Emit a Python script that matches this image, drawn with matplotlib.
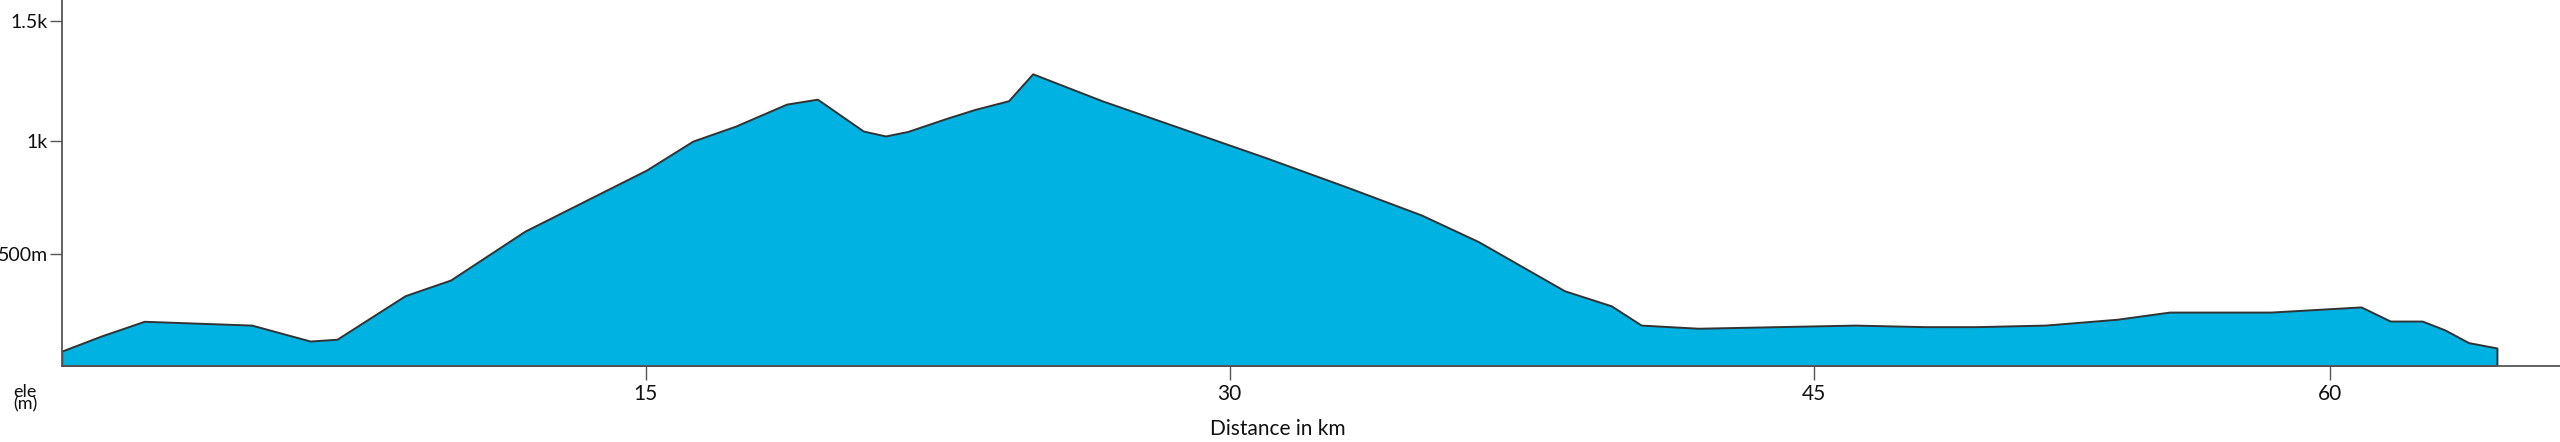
import matplotlib
matplotlib.use("Agg")
import matplotlib.pyplot as plt

# elevation profile
distance_km = [0.0, 1.01, 2.12, 4.88, 6.38, 7.07, 8.82, 9.99, 11.90, 15.02,
               16.21, 17.31, 18.62, 19.41, 20.59, 21.16, 21.73, 22.72, 23.45,
               24.32, 24.94, 26.72, 30.90, 33.03, 34.92, 36.39, 38.60, 39.80,
               40.57, 42.04, 46.06, 47.86, 49.17, 50.95, 52.79, 54.14, 56.74,
               58.25, 59.06, 59.81, 60.63, 61.22, 61.82, 62.55]
elevation_m = [65, 132, 198, 181, 110, 118, 312, 382, 600, 872,
               1001, 1068, 1166, 1188, 1046, 1024, 1044, 1102, 1142,
               1181, 1301, 1181, 929, 795, 672, 553, 334, 267,
               181, 167, 181, 174, 174, 181, 207, 239, 239,
               254, 262, 199, 199, 159, 103, 79]

# tick positions as drawn in the reference, with their printed labels
x_tick_pos = [15, 30, 45, 58.25]
x_tick_labels = ["15", "30", "45", "60"]
y_tick_pos = [500, 1000, 1537]
y_tick_labels = ["500m", "1k", "1.5k"]

FILL = "#00b2e2"
AXIS = "#555555"
FONT = ["Lato", "DejaVu Sans"]

fig = plt.figure(figsize=(25.6, 4.42), dpi=100)
ax = fig.add_axes([61.7 / 2560, 1 - 365.7 / 442, 1 - 61.7 / 2560, 365.7 / 442])

ax.fill_between(distance_km, elevation_m, 0, facecolor=FILL,
                edgecolor="#333333", linewidth=1.4, zorder=2)

ax.set_xlim(0, 64.17)
ax.set_ylim(0, 1630)

for side in ("top", "right"):
    ax.spines[side].set_visible(False)
for side in ("left", "bottom"):
    ax.spines[side].set_color(AXIS)
    ax.spines[side].set_linewidth(1.3)

ax.set_xticks(x_tick_pos)
ax.set_xticklabels(x_tick_labels, family=FONT, fontsize=15, color="#111111")
ax.set_yticks(y_tick_pos)
ax.set_yticklabels(y_tick_labels, family=FONT, fontsize=14, color="#111111")
ax.tick_params(axis="x", length=10, width=1, color=AXIS, pad=3)
ax.tick_params(axis="y", length=9, width=1, color=AXIS, pad=1)

fig.text(1278 / 2560, 1 - 429 / 442, "Distance in km", ha="center",
         va="center", family=FONT, fontsize=15, color="#111111")
fig.text(25 / 2560, 1 - 398 / 442, "ele\n(m)", ha="center", va="center",
         family=FONT, fontsize=13, linespacing=0.7, color="#111111")

fig.savefig("out.png", dpi=100)
